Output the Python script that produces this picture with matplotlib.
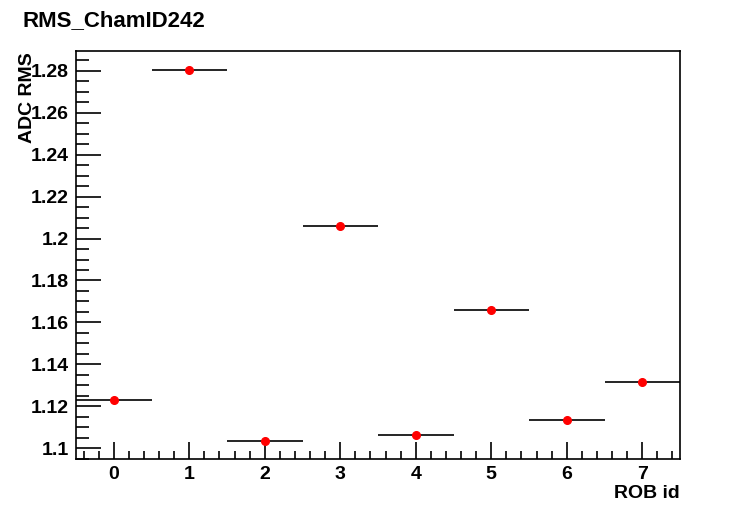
import matplotlib
matplotlib.use('Agg')
import matplotlib.pyplot as plt
from matplotlib.ticker import MultipleLocator

# ROB ids and ADC RMS values
rob_id = [0, 1, 2, 3, 4, 5, 6, 7]
adc_rms = [1.1228, 1.2803, 1.1033, 1.2062, 1.1062, 1.1659, 1.1136, 1.1314]
bin_halfwidth = [0.5] * 8

plt.rcParams['font.family'] = ['Liberation Sans', 'DejaVu Sans']
plt.rcParams['font.weight'] = 'bold'

fig = plt.figure(figsize=(7.56, 5.11), dpi=100)
ax = fig.add_axes([76/756, 1 - 459/511, (680-76)/756, (459-51)/511])

ax.errorbar(rob_id, adc_rms, xerr=bin_halfwidth, fmt='o', color='red',
            ecolor='black', elinewidth=1.2, markersize=5.5, capsize=0)

ax.set_xlim(-0.5, 7.5)
ax.set_ylim(1.0948, 1.2895)

ax.xaxis.set_major_locator(MultipleLocator(1))
ax.xaxis.set_minor_locator(MultipleLocator(0.2))
ax.yaxis.set_major_locator(MultipleLocator(0.02))
ax.yaxis.set_minor_locator(MultipleLocator(0.005))

ax.set_yticks(ax.get_yticks())
ax.set_yticklabels([f'{v:g}' for v in ax.get_yticks()])
ax.set_ylim(1.0948, 1.2895)

ax.tick_params(axis='x', which='major', direction='in', length=12, width=1.2,
               labelsize=14, pad=5, top=False)
ax.tick_params(axis='x', which='minor', direction='in', length=6, width=1.2, top=False)
ax.tick_params(axis='y', which='major', direction='in', length=18, width=1.2,
               labelsize=14, pad=5, right=False)
ax.tick_params(axis='y', which='minor', direction='in', length=9, width=1.2, right=False)

for s in ax.spines.values():
    s.set_linewidth(1.2)

fig.text(22/756, 1 - 21/511, 'RMS_ChamID242', fontsize=16, fontweight='bold',
         ha='left', va='center')
fig.text(28/756, 1 - 52/511, 'ADC RMS', fontsize=14, fontweight='bold',
         rotation=90, ha='center', va='top')
fig.text(680/756, 1 - 494/511, 'ROB id', fontsize=14, fontweight='bold',
         ha='right', va='center')

fig.savefig('out.png', dpi=100, facecolor='white')
